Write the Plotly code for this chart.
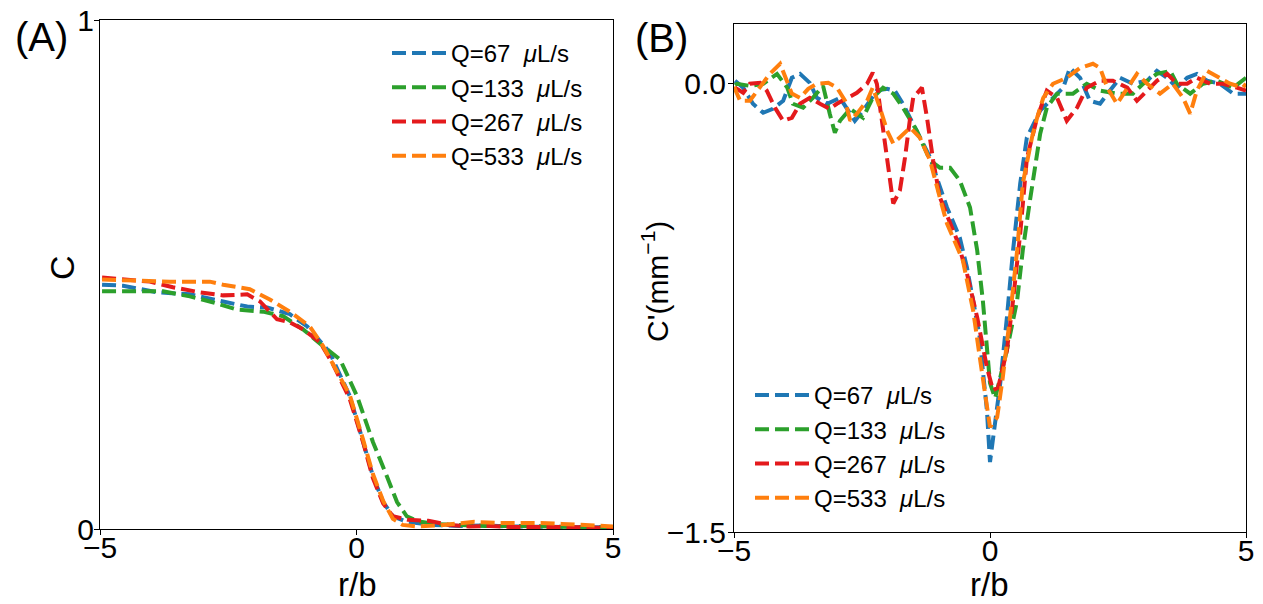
import plotly.graph_objects as go

# ---- series labels and colours ----
labels = ["Q=67&nbsp;&nbsp;<i>μ</i>L/s", "Q=133&nbsp;&nbsp;<i>μ</i>L/s",
          "Q=267&nbsp;&nbsp;<i>μ</i>L/s", "Q=533&nbsp;&nbsp;<i>μ</i>L/s"]
colors = ["#1f77b4", "#2ca02c", "#e41a1c", "#ff7f0e"]

# ---- panel A: concentration profile C(r/b) ----
a67_x = [-4.96, -4.55, -3.89, -3.25, -2.60, -2.13, -1.74, -1.30, -0.96, -0.52, -0.46, -0.13, 0.13, 0.32, 0.52, 0.71, 0.98, 1.5, 2.0, 2.5, 3.0, 3.5, 4.0, 4.5, 5.0]
a67_y = [0.480, 0.478, 0.465, 0.461, 0.447, 0.437, 0.435, 0.422, 0.398, 0.347, 0.333, 0.261, 0.171, 0.104, 0.053, 0.025, 0.014, 0.008, 0.006, 0.007, 0.005, 0.004, 0.004, 0.003, 0.003]

a133_x = [-4.96, -4.81, -4.22, -3.77, -3.25, -2.86, -2.33, -1.82, -1.43, -1.04, -0.65, -0.32, 0.01, 0.32, 0.59, 0.79, 0.98, 1.2, 1.5, 2.0, 2.5, 3.0, 3.5, 4.0, 4.5, 5.0]
a133_y = [0.467, 0.467, 0.467, 0.467, 0.457, 0.447, 0.431, 0.427, 0.418, 0.392, 0.359, 0.333, 0.261, 0.171, 0.104, 0.053, 0.025, 0.015, 0.010, 0.008, 0.006, 0.006, 0.005, 0.004, 0.004, 0.003]

a267_x = [-4.96, -4.03, -3.58, -3.05, -2.60, -2.13, -1.88, -1.55, -1.30, -1.04, -0.71, -0.46, -0.13, 0.13, 0.32, 0.52, 0.71, 1.0, 1.4, 1.8, 2.2, 2.6, 3.0, 3.5, 4.0, 4.5, 5.0]
a267_y = [0.494, 0.486, 0.475, 0.465, 0.459, 0.461, 0.447, 0.412, 0.406, 0.392, 0.367, 0.324, 0.255, 0.170, 0.100, 0.050, 0.025, 0.018, 0.016, 0.008, 0.005, 0.006, 0.004, 0.005, 0.004, 0.003, 0.002]

a533_x = [-4.96, -4.42, -3.64, -2.86, -2.60, -2.08, -1.69, -1.30, -0.91, -0.65, -0.13, 0.13, 0.32, 0.52, 0.71, 0.9, 1.2, 1.6, 2.0, 2.3, 2.7, 3.2, 3.6, 4.0, 4.5, 5.0]
a533_y = [0.490, 0.488, 0.486, 0.486, 0.480, 0.471, 0.451, 0.427, 0.398, 0.359, 0.263, 0.175, 0.108, 0.055, 0.020, 0.008, 0.005, 0.007, 0.010, 0.014, 0.012, 0.012, 0.012, 0.010, 0.007, 0.005]

# ---- panel B: gradient C'(r/b) in mm^-1 ----
b67_x = [-4.98, -4.82, -4.63, -4.43, -4.24, -4.04, -3.87, -3.71, -3.52, -3.38, -3.18, -2.93, -2.73, -2.64, -2.48, -2.21, -2.01, -1.86, -1.70, -1.43, -1.17, -1.04, -0.84, -0.59, -0.45, -0.33, -0.20, -0.14, -0.06, 0.00, 0.20, 0.33, 0.45, 0.59, 0.72, 0.98, 1.23, 1.43, 1.56, 1.76, 1.95, 2.15, 2.34, 2.54, 2.79, 3.07, 3.26, 3.46, 3.65, 3.85, 4.04, 4.24, 4.49, 4.75, 5.0]
b67_y = [0.010, -0.013, -0.067, -0.097, -0.084, -0.057, 0.020, 0.033, 0.003, -0.047, -0.067, -0.047, -0.100, -0.124, -0.090, -0.023, -0.017, -0.023, -0.067, -0.157, -0.247, -0.314, -0.414, -0.515, -0.615, -0.725, -0.849, -0.959, -1.093, -1.266, -1.002, -0.782, -0.558, -0.334, -0.180, -0.090, -0.047, -0.013, 0.053, 0.020, -0.057, -0.067, -0.023, 0.020, 0.000, 0.010, 0.043, 0.020, -0.013, 0.020, 0.033, 0.010, 0.000, -0.033, -0.033]

b133_x = [-4.98, -4.94, -4.69, -4.43, -4.16, -3.96, -3.85, -3.65, -3.46, -3.26, -3.13, -3.03, -2.93, -2.73, -2.48, -2.29, -2.09, -1.89, -1.70, -1.43, -1.17, -0.98, -0.78, -0.59, -0.39, -0.25, -0.14, -0.06, 0.00, 0.10, 0.33, 0.53, 0.64, 0.78, 0.92, 0.98, 1.11, 1.31, 1.62, 1.89, 2.15, 2.48, 2.79, 2.99, 3.26, 3.52, 3.65, 3.91, 4.16, 4.43, 4.75, 4.94, 5.0]
b133_y = [-0.005, 0.000, -0.007, 0.000, 0.033, -0.013, -0.067, -0.080, -0.047, -0.007, -0.100, -0.164, -0.124, -0.084, -0.114, -0.047, -0.013, -0.033, -0.080, -0.157, -0.257, -0.281, -0.281, -0.324, -0.414, -0.558, -0.725, -0.892, -1.002, -1.052, -0.892, -0.725, -0.558, -0.391, -0.224, -0.167, -0.080, -0.033, -0.033, 0.000, -0.023, -0.033, -0.033, 0.000, 0.033, 0.043, 0.000, -0.033, 0.000, 0.010, -0.013, 0.010, 0.020]

b267_x = [-4.98, -4.82, -4.69, -4.49, -4.36, -4.20, -4.04, -3.87, -3.71, -3.52, -3.32, -3.13, -2.99, -2.79, -2.60, -2.40, -2.29, -2.21, -2.09, -1.95, -1.89, -1.76, -1.66, -1.56, -1.50, -1.33, -1.23, -1.11, -0.98, -0.64, -0.45, -0.25, -0.06, 0.06, 0.16, 0.33, 0.45, 0.59, 0.72, 0.92, 1.11, 1.31, 1.50, 1.70, 1.89, 2.15, 2.40, 2.68, 2.87, 3.07, 3.26, 3.46, 3.65, 3.85, 4.04, 4.30, 4.55, 4.82, 5.0]
b267_y = [-0.013, -0.030, 0.000, 0.003, -0.023, -0.080, -0.124, -0.114, -0.067, -0.047, -0.067, -0.084, -0.067, -0.047, -0.030, 0.000, 0.037, 0.000, -0.147, -0.314, -0.401, -0.357, -0.247, -0.114, -0.047, -0.013, -0.114, -0.257, -0.380, -0.525, -0.635, -0.782, -0.949, -1.026, -1.016, -0.892, -0.725, -0.501, -0.250, -0.114, -0.023, -0.047, -0.124, -0.080, -0.013, 0.010, 0.010, -0.013, -0.057, -0.023, 0.010, 0.033, 0.000, 0.000, 0.020, 0.000, 0.000, -0.013, -0.023]

b533_x = [-5.0, -4.88, -4.69, -4.49, -4.30, -4.10, -3.96, -3.87, -3.71, -3.55, -3.38, -3.16, -2.99, -2.83, -2.73, -2.60, -2.40, -2.29, -2.15, -2.01, -1.89, -1.70, -1.56, -1.37, -1.17, -0.98, -0.84, -0.53, -0.33, -0.20, -0.06, 0.00, 0.14, 0.25, 0.39, 0.53, 0.64, 0.82, 0.92, 1.04, 1.23, 1.50, 1.76, 2.01, 2.15, 2.29, 2.48, 2.68, 2.87, 3.07, 3.32, 3.57, 3.77, 3.91, 4.04, 4.24, 4.49, 4.69, 4.94, 5.0]
b533_y = [-0.010, -0.057, -0.057, -0.013, 0.033, 0.067, 0.010, -0.033, -0.047, -0.017, 0.000, 0.003, -0.013, -0.057, -0.124, -0.100, -0.057, -0.013, -0.080, -0.157, -0.200, -0.167, -0.147, -0.180, -0.257, -0.381, -0.468, -0.591, -0.758, -0.915, -1.069, -1.149, -1.116, -0.982, -0.782, -0.558, -0.334, -0.180, -0.114, -0.047, 0.000, 0.020, 0.053, 0.067, 0.053, -0.013, -0.067, -0.013, 0.033, 0.000, -0.033, 0.000, -0.047, -0.100, -0.023, 0.043, 0.020, 0.000, -0.013, 0.000]

panel_a = [(a67_x, a67_y), (a133_x, a133_y), (a267_x, a267_y), (a533_x, a533_y)]
panel_b = [(b67_x, b67_y), (b133_x, b133_y), (b267_x, b267_y), (b533_x, b533_y)]

W, H = 1263, 604
FONT = "Liberation Sans, Arial, Helvetica, sans-serif"
DASH = "14px,6px"
LW = 4

fig = go.Figure()
for i, (xs, ys) in enumerate(panel_a):
    fig.add_trace(go.Scatter(
        x=xs, y=ys, mode="lines", name=labels[i],
        line=dict(color=colors[i], width=LW, dash=DASH),
        xaxis="x", yaxis="y", legend="legend"))
for i, (xs, ys) in enumerate(panel_b):
    fig.add_trace(go.Scatter(
        x=xs, y=ys, mode="lines", name=labels[i],
        line=dict(color=colors[i], width=LW, dash=DASH),
        xaxis="x2", yaxis="y2", legend="legend2"))


def px(x):
    return x / W


def py(y):
    return 1 - y / H


axis_common = dict(
    showline=True, linecolor="black", linewidth=1, mirror=True,
    ticks="outside", ticklen=5, tickwidth=1, tickcolor="black",
    showgrid=False, zeroline=False, automargin=False,
    tickfont=dict(family=FONT, size=30, color="black"),
)

fig.update_layout(
    width=W, height=H, autosize=False,
    margin=dict(l=0, r=0, t=0, b=0),
    paper_bgcolor="white", plot_bgcolor="white",
    font=dict(family=FONT, color="black"),
    xaxis=dict(domain=[px(100), px(613)], range=[-5, 5], tickvals=[-5, 0, 5], anchor="y",
               ticklabelstandoff=-13, **axis_common),
    yaxis=dict(domain=[py(529), py(20)], range=[0, 1], tickvals=[0, 1], anchor="x",
               ticklabelstandoff=-6, **axis_common),
    xaxis2=dict(domain=[px(734), px(1246)], range=[-5, 5], tickvals=[-5, 0, 5], anchor="y2",
                ticklabelstandoff=-13, **axis_common),
    yaxis2=dict(domain=[py(532), py(24)], range=[-1.5, 0.2], tickvals=[0, -1.5], tickformat=".1f",
                anchor="x2", ticklabelstandoff=-4, **axis_common),
    legend=dict(x=px(387), y=py(31), xanchor="left", yanchor="top",
                bgcolor="rgba(0,0,0,0)", borderwidth=0, itemwidth=54,
                font=dict(family=FONT, size=24, color="black")),
    legend2=dict(x=px(750), y=py(373), xanchor="left", yanchor="top",
                 bgcolor="rgba(0,0,0,0)", borderwidth=0, itemwidth=54,
                 font=dict(family=FONT, size=24, color="black")),
    showlegend=True,
)

annotations = [
    dict(text="(A)", x=px(41), y=py(37), font=dict(size=40)),
    dict(text="(B)", x=px(661), y=py(38), font=dict(size=40)),
    dict(text="C", x=px(62), y=py(268), font=dict(size=34), textangle=-90),
    dict(text="r/b", x=px(357), y=py(584), font=dict(size=33)),
    dict(text="r/b", x=px(990), y=py(584), font=dict(size=33)),
    dict(text="C'(mm<sup>−1</sup>)", x=px(655), y=py(282), font=dict(size=30), textangle=-90),
]
for a in annotations:
    a.update(xref="paper", yref="paper", showarrow=False, xanchor="center", yanchor="middle")
    a["font"].update(family=FONT, color="black")
fig.update_layout(annotations=annotations)

fig.write_html("out.html")
